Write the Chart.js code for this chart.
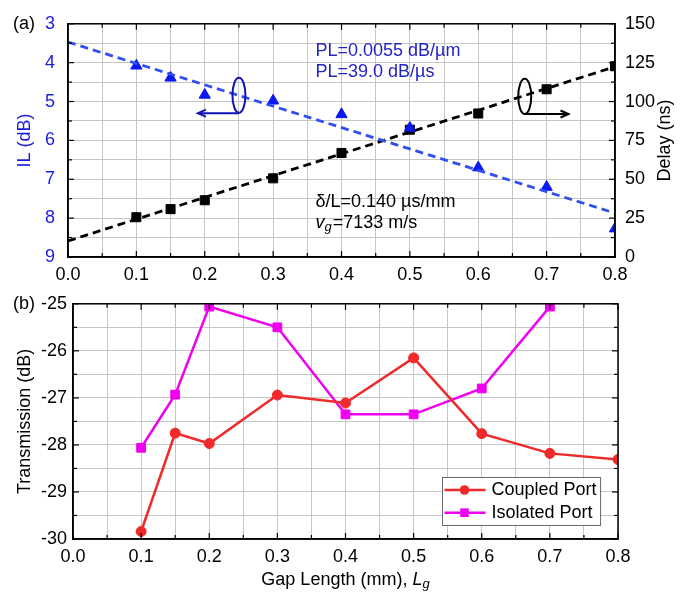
<!DOCTYPE html>
<html><head><meta charset="utf-8">
<script src="https://cdn.jsdelivr.net/npm/chart.js@4.4.0/dist/chart.umd.min.js"></script>
<style>
html,body{margin:0;padding:0;background:#fff;}
#wrap{position:relative;width:687px;height:593px;overflow:hidden;background:#fff;}
#ca{position:absolute;left:0;top:0;}
#cb{position:absolute;left:0;top:287px;}
</style></head><body>
<div id="wrap">
<canvas id="ca" width="687" height="287"></canvas>
<canvas id="cb" width="687" height="306"></canvas>
</div>
<script>
// ---------- data (panel a) ----------
const gapLengthsA = [0.1, 0.15, 0.2, 0.3, 0.4, 0.5, 0.6, 0.7, 0.8];
const insertionLoss = [4.08, 4.39, 4.83, 4.98, 5.33, 5.68, 6.70, 7.20, 8.27];
const delayNs = [25.6, 30.8, 36.5, 50.6, 66.9, 81.9, 92.3, 107.9, 122.7];
const fitX = [0.0, 0.8];
const ilFit = [3.47, 7.87];
const delayFit = [10.3, 122.4];
// ---------- data (panel b) ----------
const gapLengthsCoupled = [0.1, 0.15, 0.2, 0.3, 0.4, 0.5, 0.6, 0.7, 0.8];
const coupledPort = [-29.84, -27.75, -27.97, -26.94, -27.11, -26.15, -27.76, -28.18, -28.31];
const gapLengthsIsolated = [0.1, 0.15, 0.2, 0.3, 0.4, 0.5, 0.6, 0.7];
const isolatedPort = [-28.06, -26.93, -25.06, -25.50, -27.35, -27.35, -26.80, -25.06];
// ---------- ticks ----------
const xTicks = [0, 0.05, 0.1, 0.15, 0.2, 0.25, 0.3, 0.35, 0.4, 0.45, 0.5, 0.55, 0.6, 0.65, 0.7, 0.75, 0.8];
const xTickLabels = ['0.0','','0.1','','0.2','','0.3','','0.4','','0.5','','0.6','','0.7','','0.8'];
const ilTicks = [3, 3.5, 4, 4.5, 5, 5.5, 6, 6.5, 7, 7.5, 8, 8.5, 9];
const ilTickLabels = ['3','','4','','5','','6','','7','','8','','9'];
const delayTicks = [0, 12.5, 25, 37.5, 50, 62.5, 75, 87.5, 100, 112.5, 125, 137.5, 150];
const delayTickLabels = ['0','','25','','50','','75','','100','','125','','150'];
const transTicks = [-30, -29.5, -29, -28.5, -28, -27.5, -27, -26.5, -26, -25.5, -25];
const transTickLabels = ['-30','','-29','','-28','','-27','','-26','','-25'];
// ---------- texts ----------
const plLines = ['PL=0.0055 dB/\u00b5m', 'PL=39.0 dB/\u00b5s'];
const delayNote = '\u03b4/L=0.140 \u00b5s/mm';
const vgNote = '=7133 m/s';
const delayTitle = 'Delay (ns)';
const legendLabels = ['Coupled Port', 'Isolated Port'];

const FAM = "'Liberation Sans', Arial, sans-serif";
const fnt = (s, st) => (st ? st + ' ' : '') + s + 'px ' + FAM;
const C = {
  blueTick: '#1c1ce0', blueText: '#2424c4', blueLine: '#2f4ff0', blueMark: '#0b18f2', blueDark: '#1212b0',
  grid: '#c6c6c6', red: '#f02a2a', mag: '#f000f0'
};

const pts = (xs, ys) => xs.map((x, i) => ({x: x, y: ys[i]}));
const setTicks = arr => (s => { s.ticks = arr.map(v => ({value: v})); });

const framePlugin = {
  id: 'frame',
  afterDatasetsDraw(chart, args, opts) {
    const {ctx, chartArea: a} = chart;
    ctx.save();
    ctx.strokeStyle = '#000';
    ctx.lineWidth = 1.2;
    const ln = (x1, y1, x2, y2) => { ctx.beginPath(); ctx.moveTo(x1, y1); ctx.lineTo(x2, y2); ctx.stroke(); };
    const xs = chart.scales.x;
    xs.ticks.forEach(t => {
      const p = xs.getPixelForValue(t.value), L = t.label ? 6 : 4;
      ln(p, a.bottom, p, a.bottom - L); ln(p, a.top, p, a.top + L);
    });
    const yl = chart.scales[opts.left];
    const yr = opts.right ? chart.scales[opts.right] : yl;
    yl.ticks.forEach(t => { const p = yl.getPixelForValue(t.value), L = t.label ? 6 : 4; ln(a.left, p, a.left + L, p); });
    yr.ticks.forEach(t => { const p = yr.getPixelForValue(t.value), L = t.label ? 6 : 4; ln(a.right, p, a.right - L, p); });
    ctx.lineWidth = 1.5;
    ctx.strokeRect(a.left, a.top, a.right - a.left, a.bottom - a.top);
    ctx.fillStyle = '#000';
    ctx.font = fnt(18);
    ctx.textAlign = 'left';
    ctx.textBaseline = 'middle';
    ctx.fillText(opts.panel, 13, a.top + 0.5);
    ctx.restore();
  }
};

function drawIndicator(ctx, xs, ys, m, color) {
  const cx = xs.getPixelForValue(m.cx), cy = ys.getPixelForValue(m.cy);
  const rx = Math.abs(xs.getPixelForValue(m.cx + m.rx) - cx);
  const ry = Math.abs(ys.getPixelForValue(m.cy + m.ry) - cy);
  const ay = ys.getPixelForValue(m.arrowY), ax = xs.getPixelForValue(m.arrowTo);
  ctx.strokeStyle = color; ctx.lineWidth = 2;
  ctx.beginPath(); ctx.ellipse(cx, cy, rx, ry, 0, 0, Math.PI * 2); ctx.stroke();
  ctx.beginPath(); ctx.moveTo(cx, ay); ctx.lineTo(ax, ay); ctx.stroke();
  const dir = Math.sign(ax - cx);
  ctx.beginPath();
  ctx.moveTo(ax - dir * 8, ay - 3.5); ctx.lineTo(ax, ay); ctx.lineTo(ax - dir * 8, ay + 3.5);
  ctx.stroke();
}

const ilIndicator = {cx: 0.25, cy: 4.84, rx: 0.0095, ry: 0.45, arrowY: 5.3, arrowTo: 0.19};
const delayIndicator = {cx: 0.668, cy: 103.3, rx: 0.0095, ry: 11.3, arrowY: 92, arrowTo: 0.732};

const annotA = {
  id: 'annotA',
  afterDatasetsDraw(chart) {
    const {ctx, chartArea: a, scales: {x, yIL, yD}} = chart;
    ctx.save();
    ctx.textBaseline = 'middle'; ctx.textAlign = 'left';
    ctx.font = fnt(18);
    ctx.fillStyle = C.blueText;
    const nx = x.getPixelForValue(0.362);
    ctx.fillText(plLines[0], nx, yIL.getPixelForValue(3.71));
    ctx.fillText(plLines[1], nx, yIL.getPixelForValue(4.25));
    ctx.fillStyle = '#000';
    ctx.fillText(delayNote, nx, yD.getPixelForValue(35.6));
    let px = nx; const py = yD.getPixelForValue(22.0);
    ctx.font = fnt(18, 'italic'); ctx.fillText('v', px, py); px += ctx.measureText('v').width;
    ctx.font = fnt(13, 'italic'); ctx.fillText('g', px, py + 5); px += ctx.measureText('g').width + 1;
    ctx.font = fnt(18); ctx.fillText(vgNote, px, py);
    drawIndicator(ctx, x, yIL, ilIndicator, C.blueDark);
    drawIndicator(ctx, x, yD, delayIndicator, '#000');
    // right axis title, reading bottom-to-top
    ctx.save();
    ctx.translate(yD.right - 22, (a.top + a.bottom) / 2);
    ctx.rotate(-Math.PI / 2);
    ctx.textAlign = 'center'; ctx.textBaseline = 'middle';
    ctx.font = fnt(18); ctx.fillStyle = '#000';
    ctx.fillText(delayTitle, 0, 0);
    ctx.restore();
    ctx.restore();
  }
};

const annotB = {
  id: 'annotB',
  afterDatasetsDraw(chart) {
    const {ctx, chartArea: a} = chart;
    ctx.save();
    const runs = [
      {t: 'Gap Length (mm), ', f: fnt(18), dy: 0},
      {t: 'L', f: fnt(18, 'italic'), dy: 0},
      {t: 'g', f: fnt(13, 'italic'), dy: 3}
    ];
    let tot = 0;
    runs.forEach(r => { ctx.font = r.f; r.w = ctx.measureText(r.t).width; tot += r.w; });
    let px = (a.left + a.right) / 2 - tot / 2;
    const by = a.bottom + 45.5;
    ctx.fillStyle = '#000'; ctx.textBaseline = 'alphabetic'; ctx.textAlign = 'left';
    runs.forEach(r => { ctx.font = r.f; ctx.fillText(r.t, px, by + r.dy); px += r.w; });
    // legend
    ctx.font = fnt(18);
    const tw = Math.max(...legendLabels.map(s => ctx.measureText(s).width));
    const w = 49 + tw + 4, h = 48;
    const right = a.right - 18, bottom = a.bottom - 14;
    const left = Math.round(right - w) + 0.5, top = Math.round(bottom - h) + 0.5;
    ctx.fillStyle = '#fff'; ctx.fillRect(left, top, w, h);
    ctx.strokeStyle = '#6a6a6a'; ctx.lineWidth = 1; ctx.strokeRect(left, top, w, h);
    chart.data.datasets.forEach((ds, i) => {
      const y = top + 12.5 + i * 22.7;
      ctx.strokeStyle = ds.borderColor; ctx.lineWidth = 2.5;
      ctx.beginPath(); ctx.moveTo(left + 2, y); ctx.lineTo(left + 43, y); ctx.stroke();
      ctx.fillStyle = ds.backgroundColor;
      ctx.beginPath();
      if (ds.pointStyle === 'circle') ctx.arc(left + 22, y, 4.8, 0, Math.PI * 2);
      else ctx.rect(left + 22 - 4.3, y - 4.3, 8.6, 8.6);
      ctx.fill();
      ctx.fillStyle = '#000'; ctx.textBaseline = 'middle';
      ctx.fillText(legendLabels[i], left + 49, y);
    });
    ctx.restore();
  }
};

const tickFont = {family: FAM, size: 18};

// ---------- chart (a) ----------
new Chart(document.getElementById('ca'), {
  type: 'scatter',
  data: {
    datasets: [
      {data: pts(fitX, ilFit), yAxisID: 'yIL', showLine: true, borderColor: C.blueLine, borderWidth: 2.8, borderDash: [8, 5], pointRadius: 0, clip: 0},
      {data: pts(fitX, delayFit), yAxisID: 'yD', showLine: true, borderColor: '#000', borderWidth: 2.8, borderDash: [8, 5], pointRadius: 0, clip: 0},
      {data: pts(gapLengthsA, insertionLoss), yAxisID: 'yIL', showLine: false, pointStyle: 'triangle', pointRadius: 6.5, backgroundColor: C.blueMark, borderColor: C.blueMark, borderWidth: 1, clip: 0},
      {data: pts(gapLengthsA, delayNs), yAxisID: 'yD', showLine: false, pointStyle: 'rect', pointRadius: 6.4, backgroundColor: '#000', borderColor: '#000', borderWidth: 1, clip: 0}
    ]
  },
  options: {
    responsive: false, animation: false, devicePixelRatio: 1,
    layout: {padding: {top: 17, left: 0, right: 0, bottom: 0}},
    plugins: {legend: {display: false}, tooltip: {enabled: false}, frame: {left: 'yIL', right: 'yD', panel: '(a)'}},
    scales: {
      x: {
        type: 'linear', position: 'bottom', min: 0, max: 0.8,
        afterBuildTicks: setTicks(xTicks),
        ticks: {callback: (v, i) => xTickLabels[i], color: '#000', font: tickFont, padding: 7, maxRotation: 0, autoSkip: false},
        grid: {color: C.grid, lineWidth: 1, drawTicks: false},
        border: {display: true, color: '#000', width: 1.5},
        afterFit: s => { s.height = 30; }
      },
      yIL: {
        type: 'linear', position: 'left', reverse: true, min: 3, max: 9,
        afterBuildTicks: setTicks(ilTicks),
        ticks: {callback: (v, i) => ilTickLabels[i], color: C.blueTick, font: tickFont, padding: 13, autoSkip: false},
        grid: {color: C.grid, lineWidth: 1, drawTicks: false},
        border: {display: true, color: '#000', width: 1.5},
        title: {display: true, text: 'IL (dB)', color: C.blueTick, font: {family: FAM, size: 18}, padding: {top: 14, bottom: 0}},
        afterFit: s => { s.width = 68; }
      },
      yD: {
        type: 'linear', position: 'right', min: 0, max: 150,
        afterBuildTicks: setTicks(delayTicks),
        ticks: {callback: (v, i) => delayTickLabels[i], color: '#000', font: tickFont, padding: 10, autoSkip: false},
        grid: {display: false, drawTicks: false},
        border: {display: true, color: '#000', width: 1.5},
        title: {display: false},
        afterFit: s => { s.width = 72; }
      }
    }
  },
  plugins: [framePlugin, annotA]
});

// ---------- chart (b) ----------
new Chart(document.getElementById('cb'), {
  type: 'scatter',
  data: {
    datasets: [
      {data: pts(gapLengthsCoupled, coupledPort), showLine: true, borderColor: C.red, backgroundColor: C.red, borderWidth: 2.5, pointStyle: 'circle', pointRadius: 5, pointBorderWidth: 1, pointBorderColor: C.red, clip: 0},
      {data: pts(gapLengthsIsolated, isolatedPort), showLine: true, borderColor: C.mag, backgroundColor: C.mag, borderWidth: 2.5, pointStyle: 'rect', pointRadius: 6.2, pointBorderWidth: 1, pointBorderColor: C.mag, clip: 0}
    ]
  },
  options: {
    responsive: false, animation: false, devicePixelRatio: 1,
    layout: {padding: {top: 13, left: 0, right: 69, bottom: 0}},
    plugins: {legend: {display: false}, tooltip: {enabled: false}, frame: {left: 'y', panel: '(b)'}},
    scales: {
      x: {
        type: 'linear', position: 'bottom', min: 0, max: 0.8,
        afterBuildTicks: setTicks(xTicks),
        ticks: {callback: (v, i) => xTickLabels[i], color: '#000', font: tickFont, padding: 7, maxRotation: 0, autoSkip: false},
        grid: {color: C.grid, lineWidth: 1, drawTicks: false},
        border: {display: true, color: '#000', width: 1.5},
        afterFit: s => { s.height = 54; }
      },
      y: {
        type: 'linear', position: 'left', min: -30, max: -25,
        afterBuildTicks: setTicks(transTicks),
        ticks: {callback: (v, i) => transTickLabels[i], color: '#000', font: tickFont, padding: 6, autoSkip: false},
        grid: {color: C.grid, lineWidth: 1, drawTicks: false},
        border: {display: true, color: '#000', width: 1.5},
        title: {display: true, text: 'Transmission (dB)', color: '#000', font: {family: FAM, size: 18}, padding: {top: 14, bottom: 0}},
        afterFit: s => { s.width = 73; }
      }
    }
  },
  plugins: [framePlugin, annotB]
});
</script>
</body></html>
